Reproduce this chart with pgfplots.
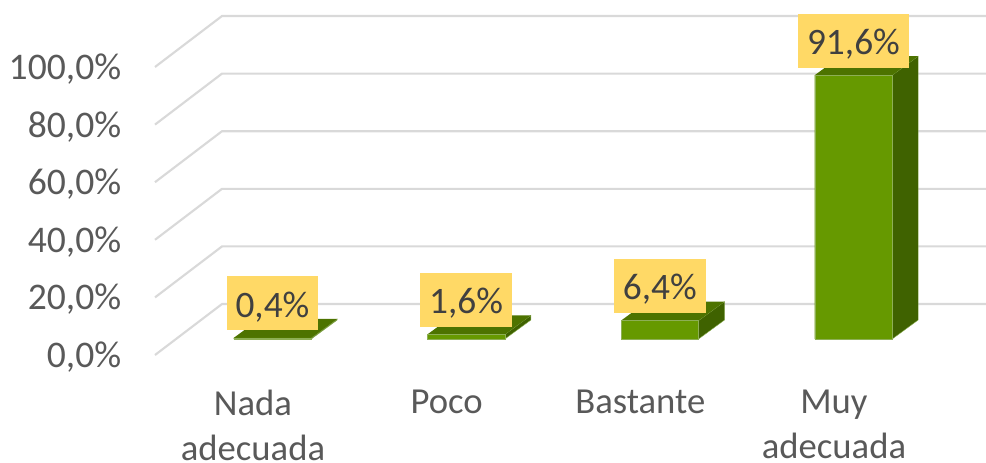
\documentclass[border=0pt]{standalone}
\usepackage{fontspec}
\setmainfont{Carlito}
\usepackage{pgfplots}
\pgfplotsset{compat=1.18}
\definecolor{frontg}{HTML}{669900}
\definecolor{topg}{HTML}{4D7300}
\definecolor{sideg}{HTML}{3F6200}
\definecolor{edgeg}{HTML}{8DAF55}
\definecolor{labely}{HTML}{FFD966}
\definecolor{gridg}{HTML}{D9D9D9}
\definecolor{ticktxt}{HTML}{595959}
\definecolor{datatxt}{HTML}{404040}
\begin{document}
\begin{tikzpicture}[x=1pt,y=1pt]
\useasboundingbox (0,0) rectangle (739.5,346.5);
% walls and value scale: x in reference px, y in percent
\begin{axis}[
  name=walls, at={(116.25pt,80.25pt)}, anchor=south west,
  scale only axis, width=623.25pt, height=266.25pt,
  xmin=155, xmax=986, ymin=0, ymax=123.26,
  clip=false,
  axis x line=none, axis y line=left,
  y axis line style={draw=none},
  xtick=\empty, ytick={0,20,40,60,80,100},
  major tick length=0pt,
  every y tick/.style={draw=none},
  yticklabel style={font=\fontsize{28.2pt}{30pt}\selectfont, text=ticktxt, anchor=east, xshift=-21.8pt, yshift=-1.5pt,
    /pgf/number format/.cd, assume math mode=true, use comma, fixed, fixed zerofill, precision=1},
  yticklabel={\pgfmathprintnumber{\tick}\%},
]
\pgfplotsinvokeforeach{0,20,40,60,80,100}{%
  \pgfmathsetmacro{\back}{#1+17.7}
  \edef\temp{\noexpand\addplot[gridg, line width=1.6pt, forget plot] coordinates {(155,#1) (222,\back) (986,\back)};}
  \temp
}
\end{axis}
% bars: x in categories, y in percent
\begin{axis}[
  name=bars, at={(116.25pt,92.25pt)}, anchor=south west,
  scale only axis, width=623.25pt, height=254.25pt,
  xmin=-0.506, xmax=3.785, ymin=0, ymax=117.7,
  clip=false,
  axis x line=bottom, axis y line=none,
  x axis line style={draw=none},
  xtick={0,1,2,3},
  xticklabels={Nada\\adecuada,Poco,Bastante,Muy\\adecuada},
  major tick length=0pt,
  every x tick/.style={draw=none},
  xticklabel style={font=\fontsize{27.5pt}{33.75pt}\selectfont, text=ticktxt, align=center, anchor=north, yshift=-34.5pt},
]
% side faces
\addplot[fill=sideg, draw=edgeg, line width=0.3pt, forget plot] coordinates {(0.3007,0) (0.4349,6.6) (0.4349,7.0) (0.3007,0.4)} -- cycle;
\addplot[fill=sideg, draw=edgeg, line width=0.3pt, forget plot] coordinates {(1.3007,0) (1.4349,6.6) (1.4349,8.2) (1.3007,1.6)} -- cycle;
\addplot[fill=sideg, draw=edgeg, line width=0.3pt, forget plot] coordinates {(2.3007,0) (2.4349,6.6) (2.4349,13.0) (2.3007,6.4)} -- cycle;
\addplot[fill=sideg, draw=edgeg, line width=0.3pt, forget plot] coordinates {(3.3007,0) (3.4349,6.6) (3.4349,98.2) (3.3007,91.6)} -- cycle;
% top faces
\addplot[fill=topg, draw=none, forget plot] coordinates {(-0.0993,0.4) (0.0349,7.0) (0.4349,7.0) (0.3007,0.4)} -- cycle;
\addplot[fill=topg, draw=none, forget plot] coordinates {(0.9007,1.6) (1.0349,8.2) (1.4349,8.2) (1.3007,1.6)} -- cycle;
\addplot[fill=topg, draw=none, forget plot] coordinates {(1.9007,6.4) (2.0349,13.0) (2.4349,13.0) (2.3007,6.4)} -- cycle;
\addplot[fill=topg, draw=none, forget plot] coordinates {(2.9007,91.6) (3.0349,98.2) (3.4349,98.2) (3.3007,91.6)} -- cycle;
% front faces with value labels
\addplot[ybar, bar width=58.1pt, bar shift=14.6pt, fill=frontg, draw=edgeg, line width=0.3pt,
  nodes near coords={\pgfmathprintnumber{\pgfplotspointmeta}\%},
  point meta=y,
  every node near coord/.append style={
    font=\fontsize{28pt}{30pt}\selectfont, text=datatxt, fill=labely,
    anchor=south, xshift=14.6pt, yshift=5.6pt, inner xsep=6.75pt, inner ysep=0pt,
    text height=30.75pt, text depth=9.75pt,
    /pgf/number format/.cd, use comma, fixed, fixed zerofill, precision=1, assume math mode=true},
] coordinates {(0,0.4) (1,1.6) (2,6.4) (3,91.6)};
\end{axis}
\end{tikzpicture}
\end{document}
